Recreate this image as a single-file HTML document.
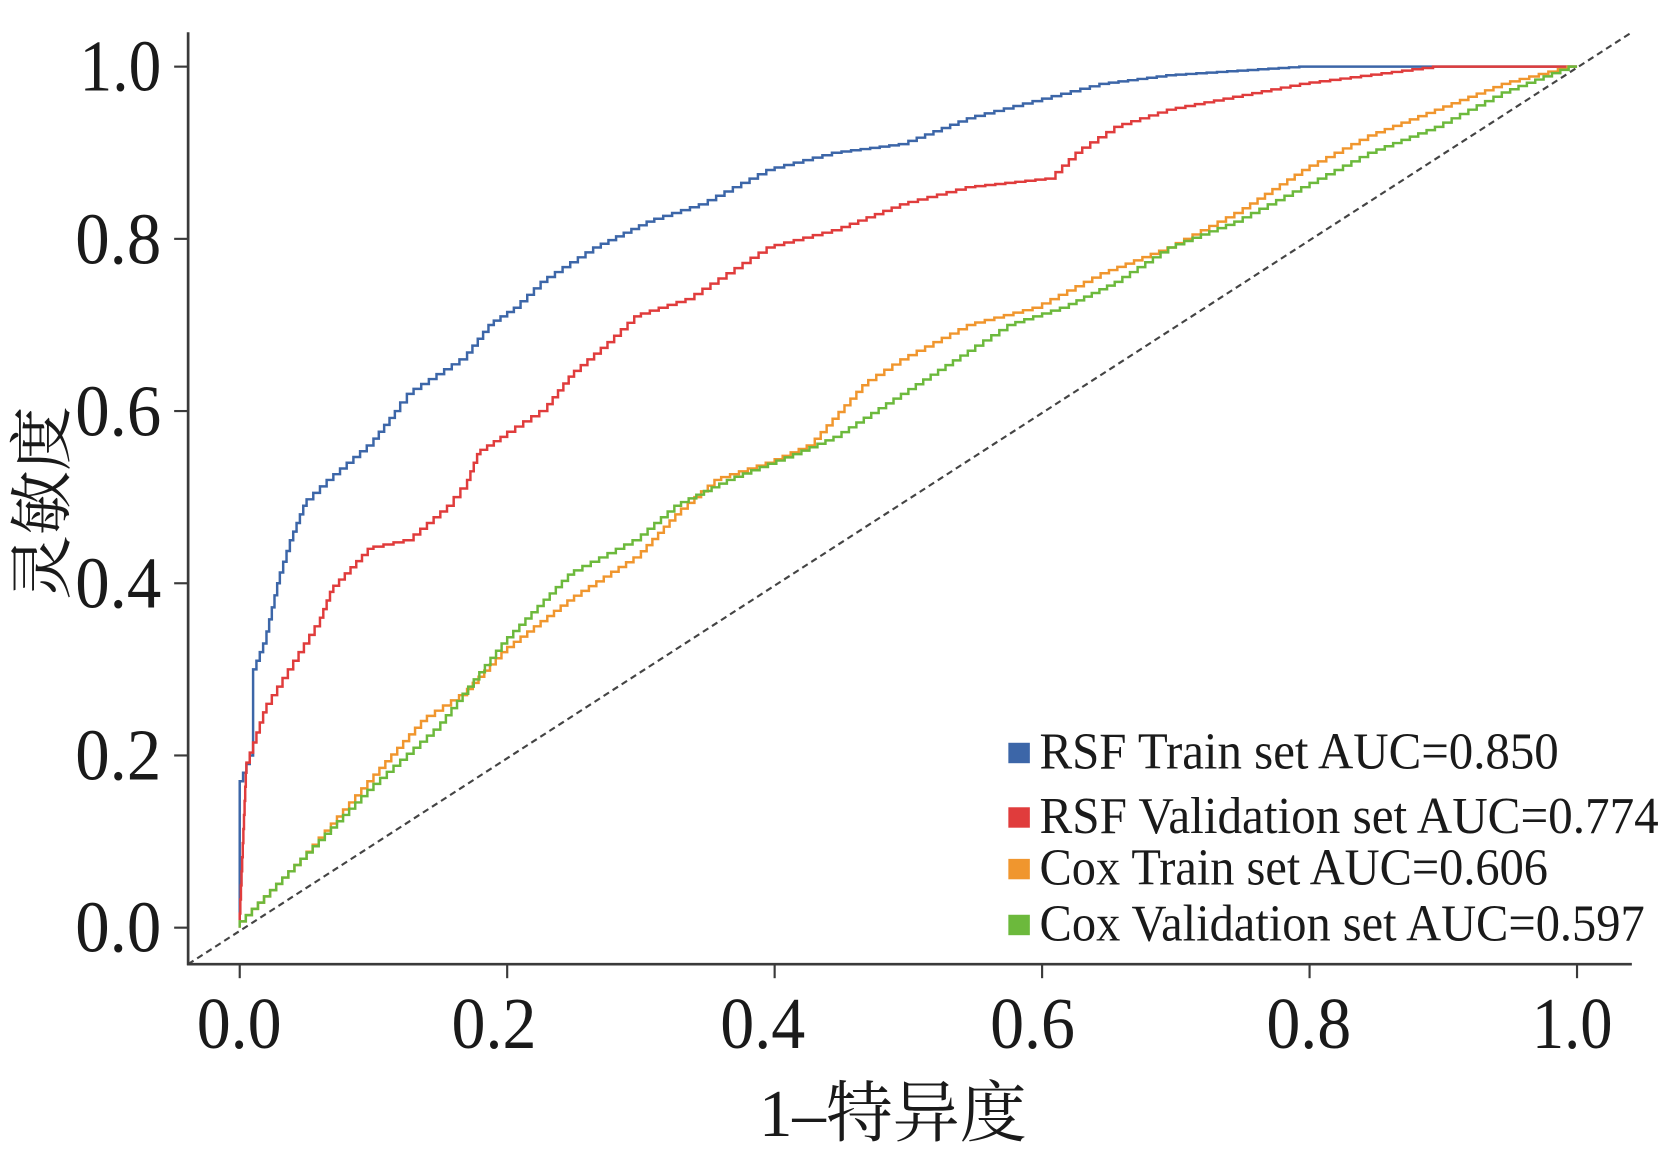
<!DOCTYPE html>
<html><head><meta charset="utf-8"><style>
html,body{margin:0;padding:0;background:#fff;}
svg{display:block;}
text{font-family:"Liberation Serif","Noto Serif CJK SC",serif;fill:#1a1a1a;}
</style></head><body>
<svg id="s" width="1677" height="1162" viewBox="0 0 1560 1081" preserveAspectRatio="none" xmlns="http://www.w3.org/2000/svg">
<rect width="1560" height="1081" fill="#fff"/>
<line x1="175" y1="897" x2="1518" y2="30" stroke="#444" stroke-width="2" stroke-dasharray="6,4"/>
<g stroke="#3a3a3a" stroke-width="2.5" fill="none">
<line x1="175" y1="30" x2="175" y2="898"/>
<line x1="174" y1="897" x2="1518" y2="897"/>
</g>
<g id="ticks" stroke="#3a3a3a" stroke-width="2"></g>
<g id="curves" fill="none" stroke-width="2.3"></g>
<g font-size="68" text-anchor="end">
<text x="150" y="885" textLength="80" lengthAdjust="spacingAndGlyphs">0.0</text><text x="150" y="725" textLength="80" lengthAdjust="spacingAndGlyphs">0.2</text><text x="150" y="565" textLength="80" lengthAdjust="spacingAndGlyphs">0.4</text><text x="150" y="405" textLength="80" lengthAdjust="spacingAndGlyphs">0.6</text><text x="150" y="245" textLength="80" lengthAdjust="spacingAndGlyphs">0.8</text><text x="150" y="84" textLength="76" lengthAdjust="spacingAndGlyphs">1.0</text>
</g>
<g font-size="68">
<text x="183" y="975" textLength="79" lengthAdjust="spacingAndGlyphs">0.0</text><text x="420" y="975" textLength="79" lengthAdjust="spacingAndGlyphs">0.2</text><text x="670" y="975" textLength="79" lengthAdjust="spacingAndGlyphs">0.4</text><text x="921" y="975" textLength="79" lengthAdjust="spacingAndGlyphs">0.6</text><text x="1178" y="975" textLength="79" lengthAdjust="spacingAndGlyphs">0.8</text><text x="1425" y="975" textLength="75" lengthAdjust="spacingAndGlyphs">1.0</text>
</g>
<text x="706" y="1057" font-size="62" textLength="249" lengthAdjust="spacingAndGlyphs">1–特异度</text>
<text transform="translate(60,468) rotate(-90)" font-size="60" text-anchor="middle">灵敏度</text>
<g font-size="48">
<rect x="938" y="691" width="20" height="19" fill="#3c66a8"/><text x="967" y="715" textLength="483" lengthAdjust="spacingAndGlyphs">RSF Train set AUC=0.850</text>
<rect x="938" y="751" width="20" height="19" fill="#e03c3c"/><text x="967" y="775" textLength="576" lengthAdjust="spacingAndGlyphs">RSF Validation set AUC=0.774</text>
<rect x="938" y="799" width="20" height="19" fill="#f0962e"/><text x="967" y="823" textLength="473" lengthAdjust="spacingAndGlyphs">Cox Train set AUC=0.606</text>
<rect x="938" y="851" width="20" height="19" fill="#6cb93c"/><text x="967" y="875" textLength="563" lengthAdjust="spacingAndGlyphs">Cox Validation set AUC=0.597</text>
</g>
</svg>
<script>
var NS="http://www.w3.org/2000/svg";
function px(x){return 223+1244*x} function py(y){return 863-801*y}
var t=document.getElementById('ticks');
[0,.2,.4,.6,.8,1].forEach(function(v){
 var l=document.createElementNS(NS,'line');l.setAttribute('x1',px(v));l.setAttribute('x2',px(v));l.setAttribute('y1',897);l.setAttribute('y2',910);t.appendChild(l);
 l=document.createElementNS(NS,'line');l.setAttribute('x1',162);l.setAttribute('x2',175);l.setAttribute('y1',py(v));l.setAttribute('y2',py(v));t.appendChild(l);
});
var S={
"#3c66a8":[[0,0],[0,.16],[.01,.2],[.01,.29],[.02,.33],[.03,.4],[.04,.45],[.05,.49],[.07,.52],[.1,.56],[.12,.6],[.13,.62],[.17,.66],[.19,.7],[.21,.72],[.23,.75],[.27,.79],[.31,.82],[.35,.84],[.4,.88],[.45,.9],[.5,.91],[.55,.94],[.6,.96],[.65,.98],[.7,.99],[.8,1],[1,1]],
"#e03c3c":[[0,0],[.005,.18],[.02,.25],[.04,.3],[.06,.35],[.07,.39],[.1,.44],[.13,.45],[.16,.49],[.17,.51],[.18,.55],[.2,.57],[.23,.6],[.25,.64],[.28,.68],[.3,.71],[.34,.73],[.37,.76],[.4,.79],[.45,.81],[.5,.84],[.55,.86],[.61,.87],[.63,.9],[.66,.93],[.7,.95],[.8,.98],[.9,1],[1,1]],
"#f0962e":[[0,0],[.05,.08],[.1,.17],[.14,.24],[.17,.27],[.2,.32],[.25,.38],[.3,.43],[.33,.48],[.36,.52],[.4,.54],[.43,.56],[.47,.63],[.5,.66],[.55,.7],[.6,.72],[.65,.76],[.7,.79],[.75,.83],[.8,.88],[.85,.92],[.9,.95],[.95,.98],[1,1]],
"#6cb93c":[[0,0],[.05,.08],[.1,.16],[.15,.23],[.2,.33],[.25,.41],[.3,.45],[.33,.49],[.37,.52],[.42,.55],[.45,.57],[.5,.62],[.55,.67],[.58,.7],[.62,.72],[.66,.75],[.7,.79],[.75,.82],[.8,.86],[.85,.9],[.9,.93],[.95,.97],[1,1]]};
var g=document.getElementById('curves');
for(var c in S){var p=S[c],pts=[];
 for(var i=0;i<p.length-1;i++){var a=p[i],b=p[i+1],n=Math.max(1,Math.round((b[0]-a[0])*120+(b[1]-a[1])*60));
  for(var k=0;k<n;k++){var x0=a[0]+(b[0]-a[0])*k/n,y0=a[1]+(b[1]-a[1])*k/n,y1=a[1]+(b[1]-a[1])*(k+1)/n;
   pts.push(px(x0)+','+py(y0));pts.push(px(x0)+','+py(y1));}
 }
 pts.push(px(1)+','+py(1));
 var pl=document.createElementNS(NS,'polyline');pl.setAttribute('points',pts.join(' '));pl.setAttribute('stroke',c);g.appendChild(pl);}
</script>
</body></html>
